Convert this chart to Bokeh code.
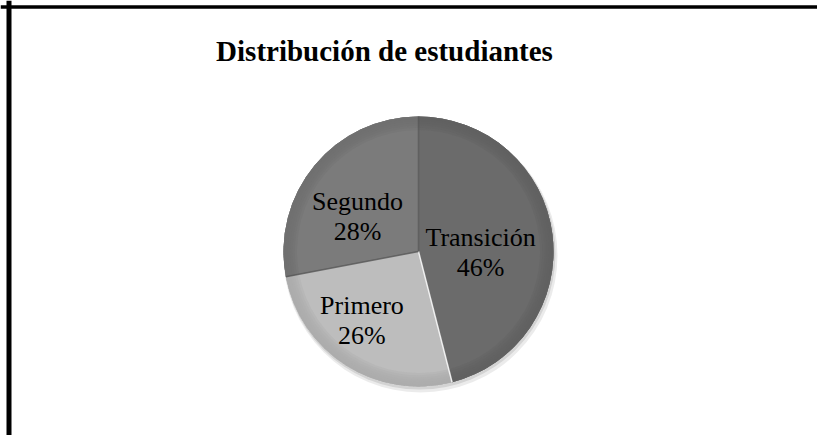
import math
from bokeh.plotting import figure
from bokeh.models import Range1d, Label, Span
from bokeh.embed import file_html
from bokeh.resources import INLINE

# ---- data ----
categories = ["Transición", "Primero", "Segundo"]
percentages = [46, 26, 28]
title_text = "Distribución de estudiantes"

# ---- style / layout ----
slice_colors = ["#6b6b6b", "#bdbdbd", "#7b7b7b"]
label_radius_factor = [0.46, 0.66, 0.52]
label_angle_nudge_deg = [-8, -7, 10]
PAGE_W, PAGE_H = 817, 435
cx_page, cy_page, R = 418, 251, 135
SERIF = "Liberation Serif"

p = figure(width=PAGE_W, height=PAGE_H, output_backend="svg", toolbar_location=None,
           min_border_left=0, min_border_top=0, min_border_right=0, min_border_bottom=0)
p.border_fill_color = "white"
p.background_fill_color = "white"
p.outline_line_color = None
p.axis.visible = False
p.grid.visible = False
# data coordinates == page pixels (y measured upward)
p.x_range = Range1d(0, PAGE_W)
p.y_range = Range1d(0, PAGE_H)

# frame lines (left and top)
p.add_layout(Span(location=8.5, dimension="height", line_color="black", line_width=5))
p.add_layout(Span(location=PAGE_H - 6.5, dimension="width", line_color="black", line_width=3.5))

cx, cy = cx_page, PAGE_H - cy_page

# soft shadow
p.circle(x=[cx + 2], y=[cy - 4], radius=R + 2, fill_color="black", fill_alpha=0.08, line_color=None)
p.circle(x=[cx + 1], y=[cy - 2], radius=R + 1, fill_color="black", fill_alpha=0.10, line_color=None)

total = float(sum(percentages))
start = 90.0
starts, ends, mids = [], [], []
for v in percentages:
    sweep = 360.0 * v / total
    end = start - sweep
    starts.append(math.radians(end))
    ends.append(math.radians(start))
    mids.append(math.radians(start - sweep / 2))
    start = end


def shade(hexcol, f):
    r = int(hexcol[1:3], 16); g = int(hexcol[3:5], 16); b = int(hexcol[5:7], 16)
    r = max(0, min(255, int(r * f))); g = max(0, min(255, int(g * f))); b = max(0, min(255, int(b * f)))
    return "#%02x%02x%02x" % (r, g, b)


for i in range(len(percentages)):
    col = slice_colors[i]
    p.wedge(x=cx, y=cy, radius=R, start_angle=starts[i], end_angle=ends[i],
            fill_color=col, line_color=None)
    # rim bevel (darker towards the edge)
    steps = 6
    for k in range(steps):
        r0 = R * (0.90 + 0.1 * k / steps)
        p.annular_wedge(x=cx, y=cy, inner_radius=r0, outer_radius=R,
                        start_angle=starts[i], end_angle=ends[i],
                        fill_color=shade(col, 0.92), fill_alpha=0.35, line_color=None)

# separators
for i in range(len(percentages)):
    a = ends[i]
    col = "white" if categories[i] == "Primero" else "#555555"
    p.segment(x0=cx, y0=cy, x1=cx + R * math.cos(a), y1=cy + R * math.sin(a),
              line_color=col, line_width=1.5, line_alpha=0.8)

# labels (two lines each)
LINE = 30
for i in range(len(percentages)):
    ang = mids[i] + math.radians(label_angle_nudge_deg[i])
    lx = cx + label_radius_factor[i] * R * math.cos(ang)
    ly = cy + label_radius_factor[i] * R * math.sin(ang)
    p.add_layout(Label(x=lx, y=ly + LINE / 2, text=categories[i], text_font=SERIF,
                       text_font_size="26px", text_align="center", text_baseline="middle",
                       text_color="black"))
    p.add_layout(Label(x=lx, y=ly - LINE / 2, text="%d%%" % percentages[i], text_font=SERIF,
                       text_font_size="26px", text_align="center", text_baseline="middle",
                       text_color="black"))

p.add_layout(Label(x=384, y=PAGE_H - 50, text=title_text, text_font=SERIF,
                   text_font_size="29px", text_font_style="bold", text_align="center",
                   text_baseline="middle", text_color="black"))

open("out.html", "w").write(file_html(p, INLINE))
